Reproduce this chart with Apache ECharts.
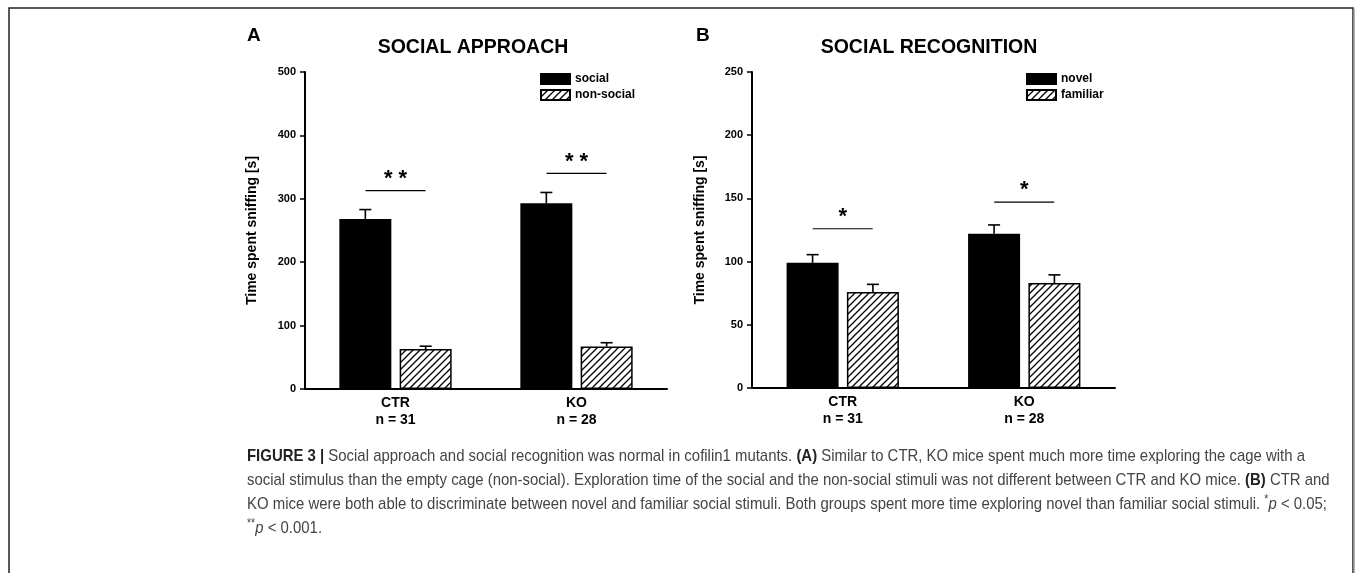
<!DOCTYPE html>
<html>
<head>
<meta charset="utf-8">
<script src="https://cdn.jsdelivr.net/npm/echarts@6/dist/echarts.min.js"></script>
<style>
html,body{margin:0;padding:0;background:#fff;}
#chart{width:1355px;height:573px;}
</style>
</head>
<body>
<div id="chart"></div>
<script>
// ---------- data ----------
const groups = ['CTR', 'KO'];
const groupN = ['n = 31', 'n = 28'];

const approachSocial = [268, 293];
const approachSocialErr = [15, 17];
const approachNonSocial = [63, 67];
const approachNonSocialErr = [4.5, 6];
const approachSig = [313, 340];
const approachStars = ['* *', '* *'];

const recogNovel = [99, 122];
const recogNovelErr = [6.5, 7];
const recogFamiliar = [76, 83];
const recogFamiliarErr = [6, 6.5];
const recogSig = [126, 147];
const recogStars = ['*', '*'];

const approachTicks = {min: 0, max: 500, interval: 100};
const recogTicks = {min: 0, max: 250, interval: 50};

// ---------- styles ----------
const FONT = 'Liberation Sans, Arial, sans-serif';
const BAR_W = 52;
const GAP_RATIO = 0.16;
const BAR_OFF = (BAR_W + BAR_W * GAP_RATIO) / 2;

const hatch = (function () {
  const c = document.createElement('canvas');
  c.width = 7; c.height = 7;
  const g = c.getContext('2d');
  g.fillStyle = '#fff'; g.fillRect(0, 0, 7, 7);
  g.strokeStyle = '#000'; g.lineWidth = 1.3;
  g.beginPath();
  g.moveTo(0, 7); g.lineTo(7, 0);
  g.moveTo(-1, 1); g.lineTo(1, -1);
  g.moveTo(6, 8); g.lineTo(8, 6);
  g.stroke();
  return c;
})();
const hatchFill = {image: hatch, repeat: 'repeat'};

const catLabels = groups.map((g, i) => g + '\n' + groupN[i]);

function errSeries(name, idx, values, errs, sign) {
  return {
    type: 'custom', name: name, xAxisIndex: idx, yAxisIndex: idx, silent: true, z: 5,
    data: values.map((v, i) => [i, v, errs[i]]),
    encode: {x: 0, y: 1},
    renderItem: function (params, api) {
      const base = api.coord([api.value(0), api.value(1)]);
      const top = api.coord([api.value(0), api.value(1) + api.value(2)]);
      const x = base[0] + sign * BAR_OFF;
      return {
        type: 'group', children: [
          {type: 'line', shape: {x1: x, y1: base[1], x2: x, y2: top[1]}, style: {stroke: '#000', lineWidth: 1.6}},
          {type: 'line', shape: {x1: x - 6, y1: top[1], x2: x + 6, y2: top[1]}, style: {stroke: '#000', lineWidth: 1.6}}
        ]
      };
    }
  };
}

function sigSeries(idx, values, stars) {
  return {
    type: 'custom', name: 'sig' + idx, xAxisIndex: idx, yAxisIndex: idx, silent: true, z: 5,
    data: values.map((v, i) => [i, v]),
    encode: {x: 0, y: 1},
    renderItem: function (params, api) {
      const p = api.coord([api.value(0), api.value(1)]);
      return {
        type: 'group', children: [
          {type: 'line', shape: {x1: p[0] - 30, y1: p[1], x2: p[0] + 30, y2: p[1]}, style: {stroke: '#000', lineWidth: 1.2}},
          {type: 'text', x: p[0], y: p[1] - 12, style: {
            text: stars[params.dataIndex], fill: '#000', font: 'bold 22px ' + FONT,
            align: 'center', verticalAlign: 'middle'}}
        ]
      };
    }
  };
}

function barSeries(name, idx, values, fill) {
  return {
    type: 'bar', name: name, xAxisIndex: idx, yAxisIndex: idx,
    data: values, barWidth: BAR_W, barGap: (GAP_RATIO * 100) + '%',
    itemStyle: {color: fill, borderColor: '#000', borderWidth: 1.5},
    silent: true
  };
}

function xAxis(idx) {
  return {
    type: 'category', gridIndex: idx, data: catLabels,
    axisLine: {lineStyle: {color: '#000', width: 2}},
    axisTick: {show: false},
    axisLabel: {color: '#000', fontFamily: FONT, fontWeight: 'bold', fontSize: 14, lineHeight: 17, margin: 6}
  };
}
function yAxis(idx, ticks) {
  return {
    type: 'value', gridIndex: idx, min: ticks.min, max: ticks.max, interval: ticks.interval,
    name: 'Time spent sniffing [s]', nameLocation: 'middle', nameGap: idx === 0 ? 46 : 45,
    nameTextStyle: {color: '#000', fontFamily: FONT, fontWeight: 'bold', fontSize: 14},
    axisLine: {show: true, lineStyle: {color: '#000', width: 2}},
    axisTick: {show: true, length: 5, lineStyle: {color: '#000', width: 1.5}},
    axisLabel: {color: '#000', fontFamily: FONT, fontWeight: 'bold', fontSize: 11, margin: 9},
    splitLine: {show: false}
  };
}

// caption
const CAP_FONT = 'Liberation Sans, Arial, sans-serif';
const CAP_SIZE = 17;
const captionLines = [
  '{b|FIGURE 3 |} Social approach and social recognition was normal in cofilin1 mutants. {b|(A)} Similar to CTR, KO mice spent much more time exploring the cage with a',
  'social stimulus than the empty cage (non-social). Exploration time of the social and the non-social stimuli was not different between CTR and KO mice. {b|(B)} CTR and',
  'KO mice were both able to discriminate between novel and familiar social stimuli. Both groups spent more time exploring novel than familiar social stimuli. {s|*}{i|p} < 0.05;',
  '{s|**}{i|p} < 0.001.'
];
// condense caption horizontally so first line spans the same width as in the figure
const CAP_TARGET_W = 1058;
const capScale = (function () {
  const ctx = document.createElement('canvas').getContext('2d');
  let w = 0;
  const parts = captionLines[0].split(/(\{b\|[^}]*\})/);
  parts.forEach(p => {
    const m = p.match(/^\{b\|([^}]*)\}$/);
    if (m) { ctx.font = 'bold ' + CAP_SIZE + 'px ' + CAP_FONT; w += ctx.measureText(m[1]).width; }
    else { ctx.font = CAP_SIZE + 'px ' + CAP_FONT; w += ctx.measureText(p).width; }
  });
  return CAP_TARGET_W / w;
})();

const chart = echarts.init(document.getElementById('chart'), null, {renderer: 'canvas'});
chart.setOption({
  animation: false,
  backgroundColor: '#fff',
  grid: [
    {left: 305, top: 72, width: 362, height: 317},
    {left: 752, top: 72, width: 363, height: 316}
  ],
  xAxis: [xAxis(0), xAxis(1)],
  yAxis: [yAxis(0, approachTicks), yAxis(1, recogTicks)],
  legend: [
    {data: ['social', 'non-social'], icon: 'rect', left: 540, top: 73, orient: 'vertical', itemWidth: 29, itemHeight: 10, itemGap: 4,
      textStyle: {color: '#000', fontFamily: FONT, fontWeight: 'bold', fontSize: 12}, selectedMode: false, padding: 0},
    {data: ['novel', 'familiar'], icon: 'rect', left: 1026, top: 73, orient: 'vertical', itemWidth: 29, itemHeight: 10, itemGap: 4,
      textStyle: {color: '#000', fontFamily: FONT, fontWeight: 'bold', fontSize: 12}, selectedMode: false, padding: 0}
  ],
  series: [
    barSeries('social', 0, approachSocial, '#000'),
    barSeries('non-social', 0, approachNonSocial, hatchFill),
    errSeries('e1', 0, approachSocial, approachSocialErr, -1),
    errSeries('e2', 0, approachNonSocial, approachNonSocialErr, 1),
    sigSeries(0, approachSig, approachStars),
    barSeries('novel', 1, recogNovel, '#000'),
    barSeries('familiar', 1, recogFamiliar, hatchFill),
    errSeries('e3', 1, recogNovel, recogNovelErr, -1),
    errSeries('e4', 1, recogFamiliar, recogFamiliarErr, 1),
    sigSeries(1, recogSig, recogStars)
  ],
  graphic: [
    {type: 'rect', shape: {x: 9, y: 8, width: 1344, height: 600}, style: {fill: 'none', stroke: '#222', lineWidth: 1.5}, silent: true},
    {type: 'line', shape: {x1: 1354, y1: 9, x2: 1354, y2: 573}, style: {stroke: '#999', lineWidth: 1.5}, silent: true},
    {type: 'text', x: 247, y: 36, style: {text: 'A', font: 'bold 19px ' + FONT, fill: '#000', verticalAlign: 'middle'}},
    {type: 'text', x: 696, y: 36, style: {text: 'B', font: 'bold 19px ' + FONT, fill: '#000', verticalAlign: 'middle'}},
    {type: 'text', x: 473, y: 48, style: {text: 'SOCIAL APPROACH', font: 'bold 19.5px ' + FONT, fill: '#000', align: 'center', verticalAlign: 'middle'}},
    {type: 'text', x: 929, y: 48, style: {text: 'SOCIAL RECOGNITION', font: 'bold 19.5px ' + FONT, fill: '#000', align: 'center', verticalAlign: 'middle'}},
    {type: 'text', x: 247, y: 444, scaleX: capScale, style: {
      text: captionLines.join('\n'), fill: '#444', fontFamily: CAP_FONT, fontSize: CAP_SIZE, lineHeight: 24,
      rich: {
        b: {fontFamily: CAP_FONT, fontSize: CAP_SIZE, fontWeight: 'bold', fill: '#222', lineHeight: 24},
        i: {fontFamily: CAP_FONT, fontSize: CAP_SIZE, fontStyle: 'italic', fill: '#444', lineHeight: 24},
        s: {fontFamily: CAP_FONT, fontSize: 12, fill: '#444', lineHeight: 24, verticalAlign: 'top', padding: [2, 0, 0, 0]}
      }
    }}
  ]
});
</script>
</body>
</html>
